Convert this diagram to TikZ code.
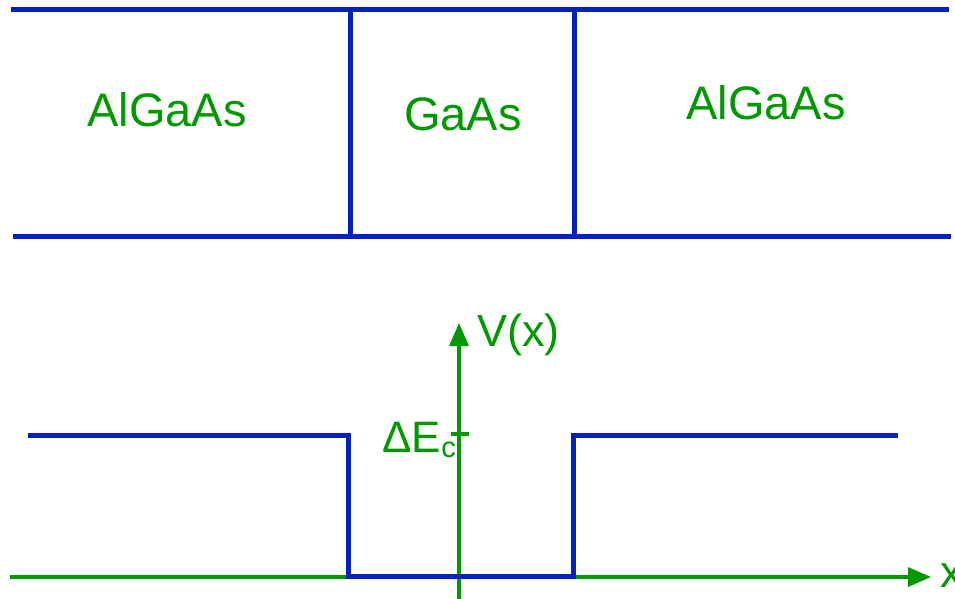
\documentclass[tikz,border=0pt]{standalone}
\usepackage{fontspec}
\setmainfont{Liberation Sans}
\usetikzlibrary{arrows.meta}
\definecolor{lineblue}{RGB}{4,34,187}
\definecolor{labgreen}{RGB}{0,153,0}
\tikzset{
  layer/.style={draw=lineblue, line width=5pt},
  axis/.style={draw=labgreen, line width=3.5pt, -{Triangle[length=23pt,width=19pt]}},
  lab/.style={text=labgreen, inner sep=0pt, anchor=base, font=\fontsize{47}{56}\selectfont},
  lab2/.style={text=labgreen, inner sep=0pt, anchor=base west, font=\fontsize{45}{54}\selectfont},
}
\begin{document}
\begin{tikzpicture}[x=1pt,y=-1pt]
\useasboundingbox (0,0) rectangle (955,599);
% top slab
\coordinate (tl) at (11,10); \coordinate (tr) at (949,10);
\coordinate (bl) at (13,236); \coordinate (br) at (951,236);
\coordinate (v1t) at (350,10); \coordinate (v1b) at (350,236);
\coordinate (v2t) at (574,10); \coordinate (v2b) at (574,236);
\draw[layer] (tl) -- (tr);
\draw[layer] (bl) -- (br);
\draw[layer] (v1t) -- (v1b);
\draw[layer] (v2t) -- (v2b);
\node[lab] (al1) at (167,127) {AlGaAs};
\node[lab] (gaas) at (463,131) {GaAs};
\node[lab] (al2) at (766,120) {AlGaAs};
% axes
\coordinate (xa0) at (10,577); \coordinate (xa1) at (931,577);
\coordinate (ya0) at (459,599); \coordinate (ya1) at (459,323);
\draw[axis] (xa0) -- (xa1);
\draw[axis] (ya0) -- (ya1);
\coordinate (tk0) at (451,434); \coordinate (tk1) at (469,434);
\draw[draw=labgreen, line width=3.5pt] (tk0) -- (tk1);
\node[lab2] (vx) at (477,346) {V(x)};
\node[lab2] (xl) at (940,587) {x};
\node[text=labgreen, inner sep=0pt, anchor=base east, font=\fontsize{44}{52}\selectfont] (dec) at (456,452) {ΔE\raisebox{-5pt}{\fontsize{29}{30}\selectfont c}};
% potential
\coordinate (p0) at (28,435); \coordinate (p1) at (348,435);
\coordinate (p2) at (348,576); \coordinate (p3) at (573,576);
\coordinate (p4) at (573,435); \coordinate (p5) at (898,435);
\draw[layer, line join=miter] (p0) -- (p1) -- (p2) -- (p3) -- (p4) -- (p5);
\end{tikzpicture}
\end{document}
